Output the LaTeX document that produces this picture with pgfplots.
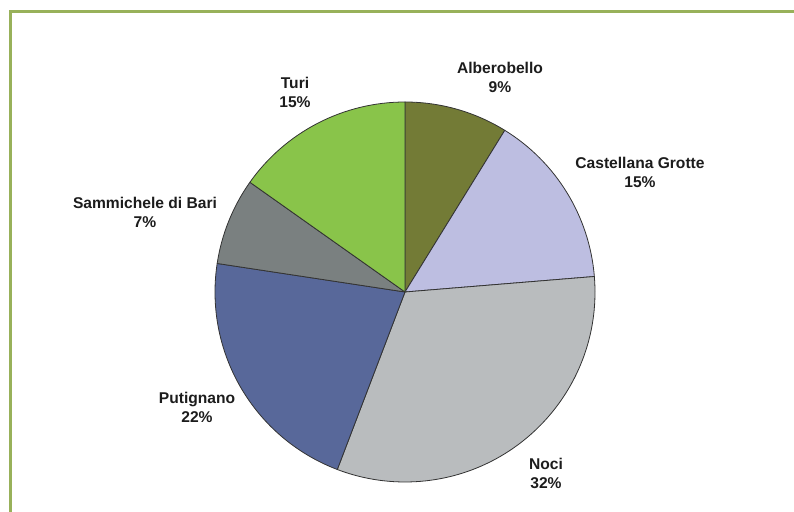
\documentclass[border=0pt]{standalone}
\usepackage{fontspec}
\setmainfont{Liberation Sans}
\usepackage{pgfplots}
\usepackage{pgfplotstable}
\pgfplotsset{compat=1.18}

\definecolor{cA}{HTML}{737B36}
\definecolor{cB}{HTML}{BDBEE1}
\definecolor{cC}{HTML}{B9BCBE}
\definecolor{cD}{HTML}{58689A}
\definecolor{cE}{HTML}{7A8080}
\definecolor{cF}{HTML}{89C44A}
\definecolor{frame}{HTML}{98B15A}
\definecolor{txt}{HTML}{1C1C1C}

% name, slice value (share), printed percentage, colour,
% label centre (x, y in picture pixels from top-left)
\pgfplotstableread[col sep=comma]{
name,val,pct,color,lx,ly
Alberobello,8.8,9,cA,500,77.5
Castellana Grotte,14.9,15,cB,640,172.5
Noci,32.1,32,cC,546,473.5
Putignano,21.6,22,cD,197,407.5
Sammichele di Bari,7.4,7,cE,145,212.5
Turi,15.2,15,cF,295,92.5
}\piedata

\begin{document}
\begin{tikzpicture}
\path[use as bounding box] (0,0) rectangle (794bp,512bp);
\clip (0,0) rectangle (794bp,512bp);
\begin{axis}[
  scale only axis, width=794bp, height=512bp,
  xmin=0, xmax=794, ymin=0, ymax=512,
  hide axis, clip=false,
]
% frame
\draw[frame, line width=3bp] (axis cs:10,-20) -- (axis cs:10,500) -- (axis cs:820,500);
% slices
\gdef\a{90}
\pgfplotsforeachungrouped \i in {0,...,5}{%
  \pgfplotstablegetelem{\i}{val}\of\piedata \let\p\pgfplotsretval
  \pgfplotstablegetelem{\i}{color}\of\piedata \let\c\pgfplotsretval
  \pgfmathsetmacro\b{\a - 3.6*\p}%
  \edef\cmd{\noexpand\filldraw[fill=\c, draw=black!80, line width=0.8bp, line join=round]
     (axis cs:405,220) -- ++(\a:190bp) arc[start angle=\a, end angle=\b, radius=190bp] -- cycle;}%
  \cmd
  \xdef\a{\b}%
}
% labels
\pgfplotsforeachungrouped \i in {0,...,5}{%
  \pgfplotstablegetelem{\i}{name}\of\piedata \let\n\pgfplotsretval
  \pgfplotstablegetelem{\i}{pct}\of\piedata \let\p\pgfplotsretval
  \pgfplotstablegetelem{\i}{lx}\of\piedata \let\x\pgfplotsretval
  \pgfplotstablegetelem{\i}{ly}\of\piedata \let\y\pgfplotsretval
  \pgfmathsetmacro\yy{512-\y}%
  \edef\cmd{\noexpand\node[align=center, text=txt, inner sep=0pt,
     font=\noexpand\fontsize{15.6bp}{19.5bp}\noexpand\selectfont\noexpand\bfseries]
     at (axis cs:\x,\yy) {\n\noexpand\\\p\noexpand\%};}%
  \cmd
}
\end{axis}
\end{tikzpicture}
\end{document}
